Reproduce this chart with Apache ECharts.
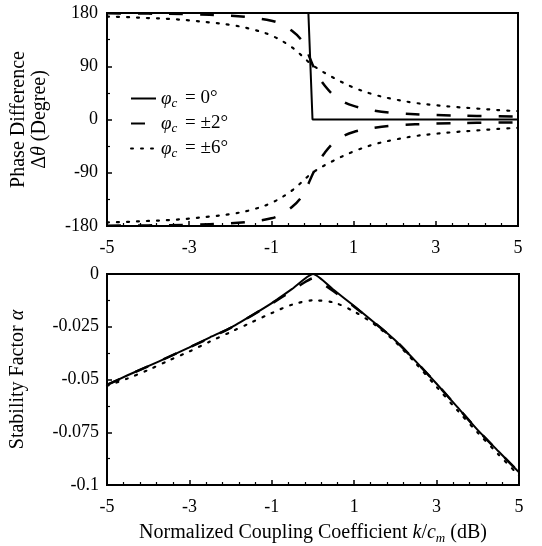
<!DOCTYPE html>
<html><head><meta charset="utf-8">
<script src="https://cdn.jsdelivr.net/npm/echarts@6/dist/echarts.min.js"></script>
<style>html,body{margin:0;padding:0;background:#fff}#c{width:542px;height:546px}</style>
</head><body><div id="c"></div>
<script>
// ---- data ----
const xTicks = [-5, -3, -1, 1, 3, 5];
const topYTicks = [-180, -90, 0, 90, 180];
const botYTicks = [0, -0.025, -0.05, -0.075, -0.1];

// top: phase difference
const phi0X = [-5, -0.1, 0, 5];
const phi0Y = [180, 180, 0, 0];

const phi2X = [-5,-4,-3,-2,-1.5,-1,-0.75,-0.5,-0.3,-0.15,0,0.15,0.3,0.5,0.75,1,1.5,2,3,4,5];
const phi2Up = [179.5,179,178,175.5,172.5,167,161,150,137,118,93,72,57,42,30,23,15,11,7.5,6,5];
const phi2Lo = [-179.5,-179,-178,-175.5,-172.5,-167,-160,-148,-134,-116,-93,-72,-56,-40,-28,-21,-14,-10,-7,-5.5,-5];

const phi6X = [-5,-4.5,-4,-3.5,-3,-2.5,-2,-1.5,-1,-0.5,0,0.5,1,1.5,2,2.5,3,3.5,4,4.5,5];
const phi6Up = [174,173,171.5,170,167.5,164,160,153,142,122,92,71,54,42,34,28,24,21,18.5,16,14];
const phi6Lo = [-174,-173,-171.5,-170,-167.5,-164,-160,-153,-141,-120,-90,-70,-54,-42,-34,-28,-24,-21,-18.5,-16,-14];

// bottom: stability factor
const alphaX = [-5,-4.5,-4,-3.5,-3,-2.5,-2,-1.5,-1,-0.5,0,0.5,1,1.5,2,2.5,3,3.5,4,4.5,5];
const alpha0 = [-0.0525,-0.048,-0.0437,-0.0393,-0.0348,-0.030,-0.0255,-0.0198,-0.0138,-0.007,0,-0.0075,-0.0152,-0.0232,-0.0315,-0.0415,-0.052,-0.063,-0.074,-0.084,-0.094];
const alpha2X = [-5,-4,-3,-2,-1,-0.5,-0.25,0,0.25,0.5,1,2,3,4,5];
const alpha2 = [-0.0525,-0.0437,-0.0348,-0.0255,-0.014,-0.0078,-0.0045,-0.002,-0.0048,-0.0082,-0.0155,-0.0315,-0.052,-0.074,-0.094];
const alpha6 = [-0.053,-0.0495,-0.0455,-0.041,-0.0367,-0.032,-0.0275,-0.023,-0.0185,-0.0145,-0.0125,-0.0135,-0.0178,-0.024,-0.0322,-0.0425,-0.0535,-0.0645,-0.0752,-0.0855,-0.0955];

const legendNames = ['φc = 0°', 'φc = ±2°', 'φc = ±6°'];
const legendRich = ['{i|φ}{s|c} = 0°', '{i|φ}{s|c} = ±2°', '{i|φ}{s|c} = ±6°'];

// ---- helpers ----
const zip = (xs, ys) => xs.map((x, i) => [x, ys[i]]);
const FONT = 'Liberation Serif';
const solid = {color:'#000', width:2, type:'solid'};
const dashed = {color:'#000', width:2.5, type:[14,17]};
const dotted = {color:'#000', width:2.2, type:[2,8], cap:'round'};

function xAxisCfg(gi, name, margin) {
  return {
    type:'value', gridIndex:gi, min:-5, max:5, interval:2,
    axisLine:{show:true, onZero:false, lineStyle:{color:'#000', width:2}},
    axisTick:{show:true, inside:true, length:5, lineStyle:{color:'#000', width:1.5}},
    minorTick:{show:true, splitNumber:5, length:3, lineStyle:{color:'#000', width:1.2}},
    splitLine:{show:false}, minorSplitLine:{show:false},
    axisLabel:{color:'#000', fontFamily:FONT, fontSize:18, margin:margin, formatter:v=>String(v)},
    name:name||'', nameLocation:'middle', nameGap:36,
    nameTextStyle:{color:'#000', fontFamily:FONT, fontSize:20,
      rich:{i:{fontFamily:FONT, fontSize:20, fontStyle:'italic', color:'#000'},
            sub:{fontFamily:FONT, fontSize:13, fontStyle:'italic', color:'#000', padding:[11,0,0,0]}}}
  };
}

const chart = echarts.init(document.getElementById('c'), null, {renderer:'canvas'});
chart.setOption({
  animation:false,
  backgroundColor:'#fff',
  grid:[
    {left:107, top:13, width:411, height:213, show:true, borderColor:'#000', borderWidth:2},
    {left:107, top:274, width:412, height:215, show:true, borderColor:'#000', borderWidth:2}
  ],
  xAxis:[
    xAxisCfg(0, '', 13),
    xAxisCfg(1, 'Normalized Coupling Coefficient {i|k}/{i|c}{sub|m} (dB)', 13)
  ],
  yAxis:[
    {type:'value', gridIndex:0, min:-180, max:180, interval:90,
     axisLine:{show:true, onZero:false, lineStyle:{color:'#000', width:2}},
     axisTick:{show:true, inside:true, length:5, lineStyle:{color:'#000', width:1.5}},
     minorTick:{show:true, splitNumber:2, length:3, lineStyle:{color:'#000', width:1.2}},
     splitLine:{show:false},
     axisLabel:{color:'#000', fontFamily:FONT, fontSize:18, margin:9},
     name:'Phase Difference\nΔ{i|θ} (Degree)', nameLocation:'middle', nameGap:57, nameRotate:90,
     nameTextStyle:{color:'#000', fontFamily:FONT, fontSize:20, lineHeight:21, align:'center',
       rich:{i:{fontFamily:FONT, fontSize:20, fontStyle:'italic', color:'#000', lineHeight:21}}}
    },
    {type:'value', gridIndex:1, min:-0.1, max:0, interval:0.025,
     axisLine:{show:true, onZero:false, lineStyle:{color:'#000', width:2}},
     axisTick:{show:true, inside:true, length:5, lineStyle:{color:'#000', width:1.5}},
     minorTick:{show:true, splitNumber:2, length:3, lineStyle:{color:'#000', width:1.2}},
     splitLine:{show:false},
     axisLabel:{color:'#000', fontFamily:FONT, fontSize:18, margin:8, formatter:v=>String(+v.toFixed(3))},
     name:'Stability Factor {i|α}', nameLocation:'middle', nameGap:79, nameRotate:90,
     nameTextStyle:{color:'#000', fontFamily:FONT, fontSize:20,
       rich:{i:{fontFamily:FONT, fontSize:20, fontStyle:'italic', color:'#000'}}}
    }
  ],
  legend:{
    data:legendNames, orient:'vertical', left:130, top:89, padding:0, itemWidth:25, itemHeight:10, itemGap:4,
    itemStyle:{opacity:0, borderWidth:0},
    formatter:name=>legendRich[legendNames.indexOf(name)],
    textStyle:{color:'#000', fontFamily:FONT, fontSize:19,
      rich:{i:{fontFamily:FONT, fontSize:19, fontStyle:'italic', color:'#000'},
            s:{fontFamily:FONT, fontSize:13, fontStyle:'italic', color:'#000', padding:[10,3,0,0]}}}
  },
  series:[
    {name:legendNames[0], type:'line', xAxisIndex:0, yAxisIndex:0, data:zip(phi0X, phi0Y), symbol:'none', itemStyle:{color:'#000'}, lineStyle:solid, z:5},
    {name:legendNames[1], type:'line', xAxisIndex:0, yAxisIndex:0, data:zip(phi2X, phi2Up), smooth:0.35, symbol:'none', itemStyle:{color:'#000'}, lineStyle:dashed},
    {name:legendNames[1], type:'line', xAxisIndex:0, yAxisIndex:0, data:zip(phi2X, phi2Lo), smooth:0.35, symbol:'none', itemStyle:{color:'#000'}, lineStyle:dashed},
    {name:legendNames[2], type:'line', xAxisIndex:0, yAxisIndex:0, data:zip(phi6X, phi6Up), smooth:0.35, symbol:'none', itemStyle:{color:'#000'}, lineStyle:dotted},
    {name:legendNames[2], type:'line', xAxisIndex:0, yAxisIndex:0, data:zip(phi6X, phi6Lo), smooth:0.35, symbol:'none', itemStyle:{color:'#000'}, lineStyle:dotted},
    {name:legendNames[0], type:'line', xAxisIndex:1, yAxisIndex:1, data:zip(alphaX, alpha0), smooth:0.2, symbol:'none', itemStyle:{color:'#000'}, lineStyle:solid, z:5},
    {name:legendNames[1], type:'line', xAxisIndex:1, yAxisIndex:1, data:zip(alpha2X, alpha2), smooth:0.2, symbol:'none', itemStyle:{color:'#000'}, lineStyle:dashed},
    {name:legendNames[2], type:'line', xAxisIndex:1, yAxisIndex:1, data:zip(alphaX, alpha6), smooth:0.3, symbol:'none', itemStyle:{color:'#000'}, lineStyle:dotted}
  ]
});
</script></body></html>
